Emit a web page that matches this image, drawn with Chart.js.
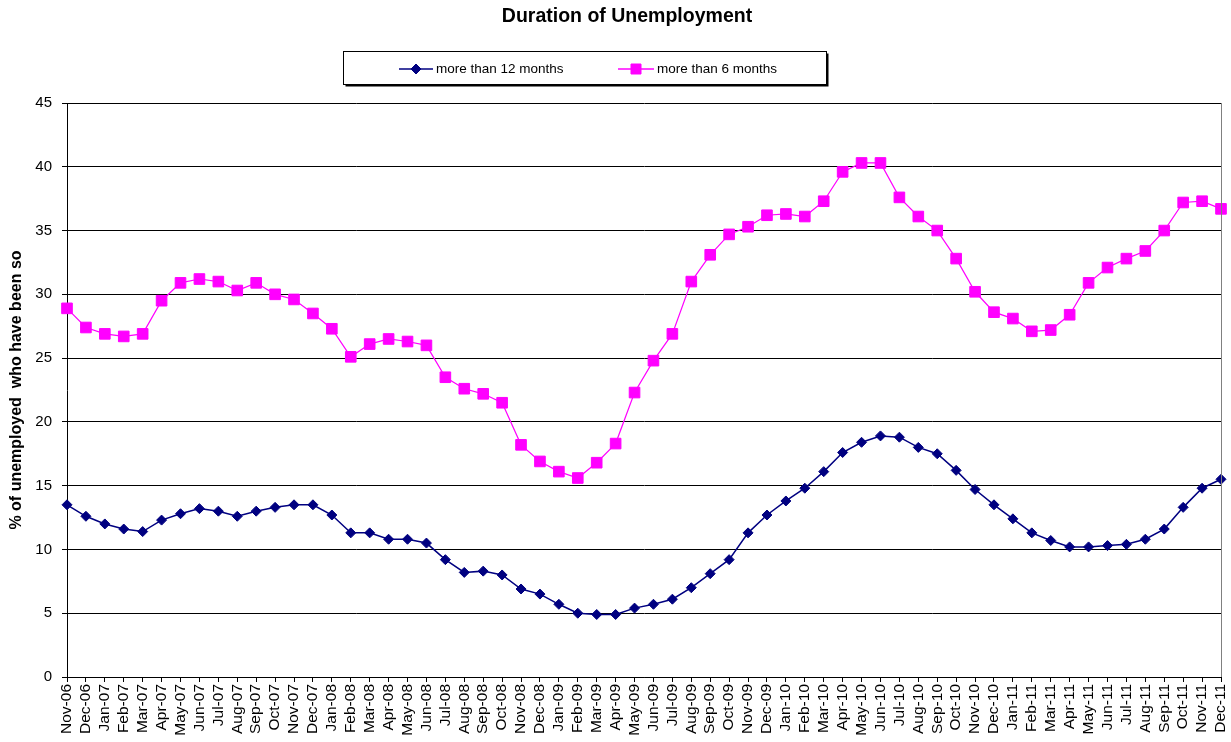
<!DOCTYPE html>
<html><head><meta charset="utf-8">
<script src="https://cdn.jsdelivr.net/npm/chart.js@4"></script>
<style>html,body{margin:0;padding:0;background:#fff}#wrap{width:1231px;height:742px;position:relative}</style>
</head><body><div id="wrap"><canvas id="c" width="1231" height="742"></canvas></div>
<script>
const chartTitle = 'Duration of Unemployment';
const yAxisTitle = '% of unemployed  who have been so';
const seriesNames = ['more than 12 months', 'more than 6 months'];
const categories = ['Nov-06','Dec-06','Jan-07','Feb-07','Mar-07','Apr-07','May-07','Jun-07','Jul-07','Aug-07','Sep-07','Oct-07','Nov-07','Dec-07',
 'Jan-08','Feb-08','Mar-08','Apr-08','May-08','Jun-08','Jul-08','Aug-08','Sep-08','Oct-08','Nov-08','Dec-08',
 'Jan-09','Feb-09','Mar-09','Apr-09','May-09','Jun-09','Jul-09','Aug-09','Sep-09','Oct-09','Nov-09','Dec-09',
 'Jan-10','Feb-10','Mar-10','Apr-10','May-10','Jun-10','Jul-10','Aug-10','Sep-10','Oct-10','Nov-10','Dec-10',
 'Jan-11','Feb-11','Mar-11','Apr-11','May-11','Jun-11','Jul-11','Aug-11','Sep-11','Oct-11','Nov-11','Dec-11'];
const moreThan12 = [13.5,12.6,12.0,11.6,11.4,12.3,12.8,13.2,13.0,12.6,13.0,13.3,13.5,13.5,
 12.7,11.3,11.3,10.8,10.8,10.5,9.2,8.2,8.3,8.0,6.9,6.5,
 5.7,5.0,4.9,4.9,5.4,5.7,6.1,7.0,8.1,9.2,11.3,12.7,
 13.8,14.8,16.1,17.6,18.4,18.9,18.8,18.0,17.5,16.2,14.7,13.5,
 12.4,11.3,10.7,10.2,10.2,10.3,10.4,10.8,11.6,13.3,14.8,15.5];
const moreThan6 = [28.9,27.4,26.9,26.7,26.9,29.5,30.9,31.2,31.0,30.3,30.9,30.0,29.6,28.5,
 27.3,25.1,26.1,26.5,26.3,26.0,23.5,22.6,22.2,21.5,18.2,16.9,
 16.1,15.6,16.8,18.3,22.3,24.8,26.9,31.0,33.1,34.7,35.3,36.2,
 36.3,36.1,37.3,39.6,40.3,40.3,37.6,36.1,35.0,32.8,30.2,28.6,
 28.1,27.1,27.2,28.4,30.9,32.1,32.8,33.4,35.0,37.2,37.3,36.7];
const yMin = 0, yMax = 45, yStep = 5;

const FONT = 'Arial, "Liberation Sans", Helvetica, sans-serif';
const NAVY = '#000080', MAGENTA = '#FF00FF';

function drawMarker(ctx, style, x, y, color) {
  ctx.save();
  ctx.fillStyle = color; ctx.strokeStyle = color; ctx.lineWidth = 1;
  ctx.beginPath();
  if (style === 'rectRot') {
    const r = 5;
    ctx.moveTo(x, y - r); ctx.lineTo(x + r, y); ctx.lineTo(x, y + r); ctx.lineTo(x - r, y); ctx.closePath();
  } else {
    const h = 5;
    ctx.rect(x - h, y - h, 2 * h, 2 * h);
  }
  ctx.fill(); ctx.stroke();
  ctx.restore();
}

const decor = {
  id: 'decor',
  afterDraw(chart) {
    const ctx = chart.ctx, a = chart.chartArea;
    ctx.save();
    // right plot border
    ctx.strokeStyle = '#808080'; ctx.lineWidth = 1;
    ctx.beginPath(); ctx.moveTo(a.right + 0.5, a.top); ctx.lineTo(a.right + 0.5, a.bottom); ctx.stroke();
    // title
    ctx.fillStyle = '#000'; ctx.font = 'bold 19.5px ' + FONT;
    ctx.textAlign = 'center'; ctx.textBaseline = 'middle';
    ctx.fillText(chartTitle, 627, 17);
    // legend box with shadow
    const bx = 343.5, by = 51.5, bw = 483, bh = 33;
    ctx.fillStyle = '#000'; ctx.fillRect(bx + 2, by + 2, bw, bh);
    ctx.fillStyle = '#fff'; ctx.fillRect(bx, by, bw, bh);
    ctx.strokeStyle = '#000'; ctx.lineWidth = 1; ctx.strokeRect(bx, by, bw, bh);
    const items = [
      {x0: 399, x1: 433, color: NAVY, style: 'rectRot', width: 1.5},
      {x0: 618, x1: 654, color: MAGENTA, style: 'rect', width: 1.5}
    ];
    const ly = 69;
    ctx.font = '13.5px ' + FONT; ctx.textAlign = 'left'; ctx.textBaseline = 'middle';
    items.forEach((it, i) => {
      ctx.strokeStyle = it.color; ctx.lineWidth = it.width;
      ctx.beginPath(); ctx.moveTo(it.x0, ly); ctx.lineTo(it.x1, ly); ctx.stroke();
      drawMarker(ctx, it.style, (it.x0 + it.x1) / 2, ly, it.color);
      ctx.fillStyle = '#000';
      ctx.fillText(seriesNames[i], it.x1 + 3, ly);
    });
    ctx.restore();
  }
};

new Chart(document.getElementById('c'), {
  type: 'line',
  data: {
    labels: categories,
    datasets: [
      {label: seriesNames[0], data: moreThan12, borderColor: NAVY, backgroundColor: NAVY,
       borderWidth: 1.5, pointStyle: 'rectRot', pointRadius: 5, pointBorderWidth: 1, tension: 0, clip: false},
      {label: seriesNames[1], data: moreThan6, borderColor: MAGENTA, backgroundColor: MAGENTA,
       borderWidth: 1.2, pointStyle: 'rect', pointRadius: 7.5, pointBorderWidth: 1, tension: 0, clip: false}
    ]
  },
  options: {
    responsive: false, animation: false, devicePixelRatio: 1,
    layout: {padding: {top: 103, right: 10, left: 0, bottom: 0}},
    plugins: {legend: {display: false}, title: {display: false}, tooltip: {enabled: false}},
    scales: {
      x: {
        offset: false,
        grid: {display: true, drawOnChartArea: false, drawTicks: true, tickLength: 5, color: '#000', offset: false},
        border: {color: '#000', width: 1},
        ticks: {autoSkip: false, maxRotation: 90, minRotation: 90, color: '#000', padding: 2,
                font: {family: FONT, size: 15.5}},
        afterFit: s => { s.height = 65; s.paddingLeft = 0; s.paddingRight = 0; }
      },
      y: {
        min: yMin, max: yMax,
        ticks: {stepSize: yStep, color: '#000', padding: 10, font: {family: FONT, size: 15}},
        grid: {color: '#000', lineWidth: 1, tickLength: 5},
        border: {color: '#000', width: 1},
        title: {display: true, text: yAxisTitle, color: '#000', font: {family: FONT, size: 16, weight: 'bold'},
                padding: {top: 7, bottom: 0}},
        afterFit: s => { s.width = 67; }
      }
    }
  },
  plugins: [decor]
});
</script></body></html>
